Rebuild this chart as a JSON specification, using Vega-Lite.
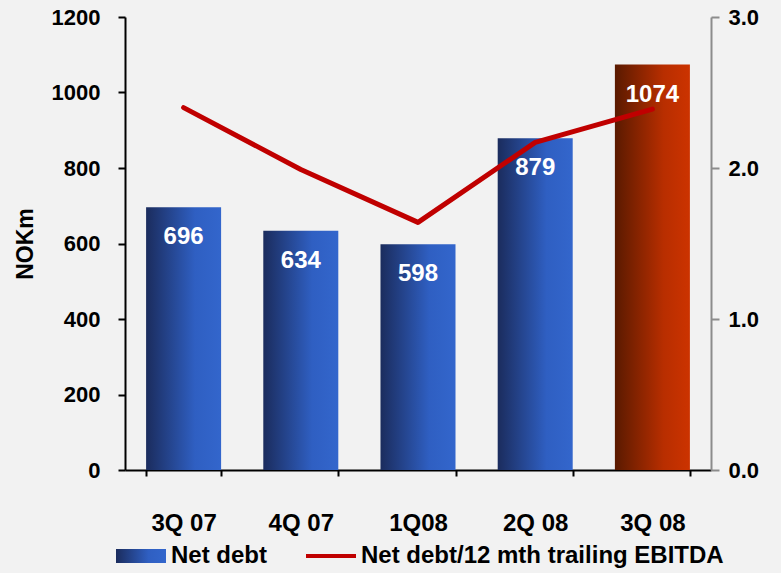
{
  "$schema": "https://vega.github.io/schema/vega-lite/v6.json",
  "width": 586,
  "height": 453,
  "autosize": {"type": "none"},
  "padding": {"left": 125, "top": 17, "right": 70, "bottom": 103},
  "background": "#f2f2f2",
  "config": {
    "view": {"stroke": null},
    "font": "Liberation Sans",
    "axis": {"grid": false, "labelFont": "Liberation Sans", "labelFontWeight": "bold", "labelColor": "#000000", "titleFont": "Liberation Sans", "titleFontWeight": "bold", "titleColor": "#000000"}
  },
  "data": {
    "values": [
      {"q": "3Q 07", "debt": 696, "ratio": 2.4},
      {"q": "4Q 07", "debt": 634, "ratio": 1.99},
      {"q": "1Q08", "debt": 598, "ratio": 1.64},
      {"q": "2Q 08", "debt": 879, "ratio": 2.17},
      {"q": "3Q 08", "debt": 1074, "ratio": 2.39}
    ]
  },
  "encoding": {
    "x": {
      "field": "q", "type": "nominal", "sort": null,
      "scale": {"paddingInner": 0.36, "paddingOuter": 0.18},
      "axis": {"title": null, "labelAngle": 0, "labelFontSize": 24, "tickBand": "extent", "tickSize": 6, "tickWidth": 2, "tickColor": "#000000", "domainColor": "#000000", "domainWidth": 2, "labelPadding": 35}
    }
  },
  "layer": [
    {
      "layer": [
        {
          "transform": [{"filter": "datum.q !== '3Q 08'"}],
          "mark": {"type": "bar", "fill": {"gradient": "linear", "x1": 0, "y1": 0, "x2": 1, "y2": 0, "stops": [{"offset": 0, "color": "#1b2c5d"}, {"offset": 0.65, "color": "#2f5fc2"}, {"offset": 1, "color": "#3366cc"}]}},
          "encoding": {
            "y": {
              "field": "debt", "type": "quantitative",
              "scale": {"domain": [0, 1200], "nice": false},
              "axis": {"title": "NOKm", "titleFontSize": 23, "titlePadding": 14, "labelFontSize": 22, "values": [0, 200, 400, 600, 800, 1000, 1200], "format": "d", "tickSize": 7, "tickWidth": 2, "tickColor": "#000000", "domainColor": "#000000", "domainWidth": 2, "labelPadding": 18}
            }
          }
        },
        {
          "transform": [{"filter": "datum.q === '3Q 08'"}],
          "mark": {"type": "bar", "fill": {"gradient": "linear", "x1": 0, "y1": 0, "x2": 1, "y2": 0, "stops": [{"offset": 0, "color": "#5a1a00"}, {"offset": 0.65, "color": "#b82e00"}, {"offset": 1, "color": "#cc3300"}]}},
          "encoding": {
            "y": {"field": "debt", "type": "quantitative"}
          }
        },
        {
          "mark": {"type": "text", "color": "#ffffff", "fontSize": 24, "fontWeight": "bold", "font": "Liberation Sans", "baseline": "middle", "dy": 30},
          "encoding": {
            "y": {"field": "debt", "type": "quantitative"},
            "text": {"field": "debt", "type": "quantitative", "format": "d"}
          }
        }
      ]
    },
    {
      "mark": {"type": "line", "strokeWidth": 5, "strokeCap": "round", "strokeJoin": "round"},
      "encoding": {
        "y": {
          "field": "ratio", "type": "quantitative",
          "scale": {"domain": [0, 3], "nice": false},
          "axis": {"orient": "right", "title": null, "values": [0, 1, 2, 3], "format": ".1f", "labelFontSize": 22, "tickSize": 8, "tickWidth": 2, "tickColor": "#8c8c8c", "domainColor": "#8c8c8c", "domainWidth": 2, "labelPadding": 9}
        },
        "color": {
          "datum": "Net debt/12  mth trailing EBITDA",
          "scale": {"domain": ["Net debt", "Net debt/12  mth trailing EBITDA"], "range": ["#2a52ac", "#c00000"]},
          "legend": {
            "title": null, "orient": "none", "legendX": 4, "legendY": 527, "direction": "horizontal",
            "labelFontSize": 24, "labelFontWeight": "bold", "labelFont": "Liberation Sans", "labelColor": "#000000",
            "labelLimit": 600, "labelOffset": 18, "columnPadding": 31, "symbolSize": 2500, "padding": 0,
            "symbolType": {"expr": "datum.value === 'Net debt' ? 'M-1,-0.28H1V0.28H-1Z' : 'M-1,0H1'"},
            "symbolFillColor": {"expr": "datum.value === 'Net debt' ? {gradient: 'linear', x1: 0, y1: 0, x2: 1, y2: 0, stops: [{offset: 0, color: '#1b2c5d'}, {offset: 0.65, color: '#2f5fc2'}, {offset: 1, color: '#3366cc'}]} : 'transparent'"},
            "symbolStrokeColor": {"expr": "datum.value === 'Net debt' ? 'transparent' : '#c00000'"},
            "symbolStrokeWidth": {"expr": "datum.value === 'Net debt' ? 0 : 4"},
            "symbolOpacity": 1
          }
        }
      }
    }
  ],
  "resolve": {"scale": {"y": "independent"}}
}
